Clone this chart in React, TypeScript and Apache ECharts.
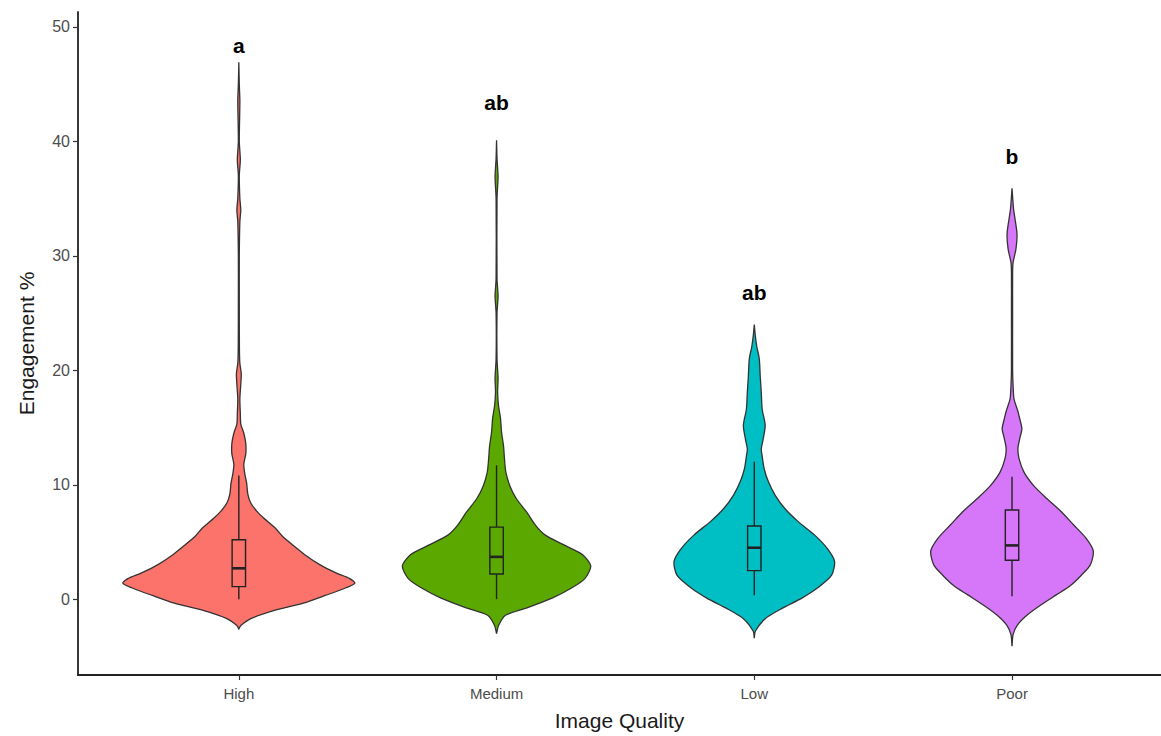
import React, { useEffect, useRef } from "react";
import * as echarts from "echarts";

const categories = ["High", "Medium", "Low", "Poor"];
const colors = ["#FB736A", "#5BA900", "#00BFC4", "#D577F8"];
const sigLetters = ["a", "ab", "ab", "b"];
const sigLetterY = [48.4, 43.4, 26.8, 38.7];

// violin profiles: y values and relative density (widest violin = 1)
const highY = [-2.6, -2.3, -1.7, -1.0, -0.35, 0.35, 1.0, 1.4, 1.8, 2.3, 3.0, 3.8, 4.7, 5.5, 6.2, 7.1, 7.7, 8.4, 9.2, 10.1, 11.0, 11.8, 12.7, 13.6, 14.5, 15.3, 16.2, 17.5, 18.8, 19.7, 20.6, 22, 26, 30, 33, 34, 35, 37, 38.4, 40, 43.5, 45, 46.9];
const highD = [0, 0.017, 0.103, 0.3, 0.556, 0.752, 0.923, 1.0, 0.957, 0.838, 0.701, 0.581, 0.47, 0.376, 0.316, 0.214, 0.154, 0.103, 0.077, 0.068, 0.051, 0.043, 0.06, 0.06, 0.043, 0.017, 0.013, 0.009, 0.017, 0.021, 0.009, 0.005, 0.004, 0.004, 0.009, 0.017, 0.009, 0.004, 0.013, 0.004, 0.009, 0.004, 0];

const mediumY = [-3.0, -2.3, -1.4, -0.8, 0.1, 1.0, 1.8, 2.9, 3.9, 4.7, 5.6, 6.4, 7.6, 8.8, 9.9, 11.1, 12.3, 13.4, 14.6, 15.8, 16.9, 18.1, 19.3, 21, 25, 26.5, 28, 35, 36.9, 38.5, 40.1];
const mediumD = [0, 0.017, 0.077, 0.248, 0.479, 0.65, 0.761, 0.812, 0.74, 0.59, 0.42, 0.34, 0.26, 0.17, 0.115, 0.08, 0.068, 0.06, 0.043, 0.034, 0.017, 0.009, 0.013, 0.004, 0.004, 0.013, 0.004, 0.004, 0.013, 0.004, 0];

const lowY = [-3.4, -2.8, -1.7, -0.8, 0.1, 1.0, 2.1, 3.3, 4.4, 5.6, 6.8, 7.9, 9.1, 10.3, 11.4, 12.5, 13.1, 14.0, 15.2, 16.6, 18.1, 19.5, 21.0, 22.1, 23.0, 24.0];
const lowD = [0, 0.009, 0.094, 0.239, 0.41, 0.547, 0.667, 0.692, 0.632, 0.521, 0.376, 0.265, 0.179, 0.12, 0.085, 0.068, 0.06, 0.077, 0.094, 0.068, 0.06, 0.051, 0.043, 0.021, 0.009, 0];

const poorY = [-4.1, -3.1, -2.3, -1.4, -0.5, 0.4, 1.2, 2.1, 3.0, 4.2, 5.3, 6.5, 7.7, 8.8, 9.9, 11.1, 12.3, 13.2, 14.1, 14.9, 15.7, 16.4, 17.5, 18.7, 20, 25, 28.5, 29.4, 30.6, 31.9, 33.2, 34.1, 35.9];
const poorD = [0, 0.009, 0.043, 0.128, 0.248, 0.385, 0.504, 0.598, 0.675, 0.701, 0.641, 0.53, 0.419, 0.299, 0.188, 0.103, 0.06, 0.051, 0.068, 0.085, 0.068, 0.051, 0.017, 0.009, 0.005, 0.005, 0.005, 0.009, 0.034, 0.043, 0.026, 0.013, 0];

// box stats: [lower whisker, Q1, median, Q3, upper whisker]
const highBox = [0, 1.1, 2.7, 5.2, 10.8];
const mediumBox = [0, 2.2, 3.7, 6.3, 11.7];
const lowBox = [0.35, 2.5, 4.5, 6.4, 12.0];
const poorBox = [0.25, 3.4, 4.7, 7.8, 10.7];

const yTicks = [0, 10, 20, 30, 40, 50];

const profiles = [
  { y: highY, d: highD, box: highBox },
  { y: mediumY, d: mediumD, box: mediumBox },
  { y: lowY, d: lowD, box: lowBox },
  { y: poorY, d: poorD, box: poorBox },
];

const FONT = "'Liberation Sans', Arial, sans-serif";

export default function App() {
  const ref = useRef<HTMLDivElement>(null);
  useEffect(() => {
    document.body.style.margin = "0";
    const chart = echarts.init(ref.current!, null, { renderer: "svg" });
    const halfMax = 0.45;
    const boxHalf = 0.026;
    const renderItem = (params: any, api: any) => {
      const i = api.value(0);
      const c = i + 1;
      const p = profiles[i];
      const right: number[][] = [];
      const left: number[][] = [];
      for (let k = 0; k < p.y.length; k++) {
        right.push(api.coord([c + p.d[k] * halfMax, p.y[k]]));
        left.push(api.coord([c - p.d[k] * halfMax, p.y[k]]));
      }
      const pts = right.concat(left.reverse());
      const b = p.box;
      const pLo = api.coord([c - boxHalf, b[3]]);
      const pHi = api.coord([c + boxHalf, b[1]]);
      const cx = api.coord([c, 0])[0];
      const yw0 = api.coord([c, b[0]])[1];
      const yq1 = api.coord([c, b[1]])[1];
      const ymed = api.coord([c, b[2]])[1];
      const yq3 = api.coord([c, b[3]])[1];
      const yw1 = api.coord([c, b[4]])[1];
      const lab = api.coord([c, sigLetterY[i]]);
      return {
        type: "group",
        children: [
          {
            type: "polygon",
            shape: { points: pts, smooth: 0.25 },
            style: { fill: colors[i], stroke: "#333333", lineWidth: 1.3 },
          },
          {
            type: "line",
            shape: { x1: cx, y1: yw0, x2: cx, y2: yq1 },
            style: { stroke: "#222222", lineWidth: 1.4 },
          },
          {
            type: "line",
            shape: { x1: cx, y1: yq3, x2: cx, y2: yw1 },
            style: { stroke: "#222222", lineWidth: 1.4 },
          },
          {
            type: "rect",
            shape: { x: pLo[0], y: pLo[1], width: pHi[0] - pLo[0], height: pHi[1] - pLo[1] },
            style: { fill: colors[i], stroke: "#222222", lineWidth: 1.4 },
          },
          {
            type: "line",
            shape: { x1: pLo[0], y1: ymed, x2: pHi[0], y2: ymed },
            style: { stroke: "#222222", lineWidth: 2.6 },
          },
          {
            type: "text",
            x: lab[0],
            y: lab[1],
            style: {
              text: sigLetters[i],
              fill: "#000000",
              font: "bold 21px " + FONT,
              align: "center",
              verticalAlign: "middle",
            },
          },
        ],
      };
    };
    chart.setOption({
      animation: false,
      backgroundColor: "#ffffff",
      grid: { left: 78, right: 0, top: 12, bottom: 59, containLabel: false },
      xAxis: {
        type: "value",
        min: 0.376,
        max: 4.578,
        name: "Image Quality",
        nameLocation: "middle",
        nameGap: 35,
        nameTextStyle: { fontSize: 21, color: "#1a1a1a", fontFamily: FONT },
        axisLine: { show: true, onZero: false, lineStyle: { color: "#222222", width: 1.8 } },
        axisTick: { show: true, customValues: [1, 2, 3, 4], length: 5, lineStyle: { color: "#333333", width: 1.2 } },
        axisLabel: {
          customValues: [1, 2, 3, 4],
          formatter: (v: number) => categories[Math.round(v) - 1] ?? "",
          fontSize: 15,
          color: "#4d4d4d",
          margin: 11,
          fontFamily: FONT,
        },
        splitLine: { show: false },
      },
      yAxis: {
        type: "value",
        min: -6.62,
        max: 51.3,
        name: "Engagement %",
        nameLocation: "middle",
        nameGap: 41,
        nameTextStyle: { fontSize: 21, color: "#1a1a1a", fontFamily: FONT },
        axisLine: { show: true, onZero: false, lineStyle: { color: "#222222", width: 1.8 } },
        axisTick: { show: true, customValues: yTicks, length: 5, lineStyle: { color: "#333333", width: 1.2 } },
        axisLabel: {
          customValues: yTicks,
          fontSize: 16,
          color: "#4d4d4d",
          margin: 8,
          fontFamily: FONT,
        },
        splitLine: { show: false },
      },
      series: [
        {
          type: "custom",
          renderItem,
          data: categories.map((_, i) => [i]),
          encode: { x: -1, y: -1 },
          clip: false,
        },
      ],
    });
    return () => chart.dispose();
  }, []);
  return <div ref={ref} style={{ width: 1161, height: 736 }} />;
}
